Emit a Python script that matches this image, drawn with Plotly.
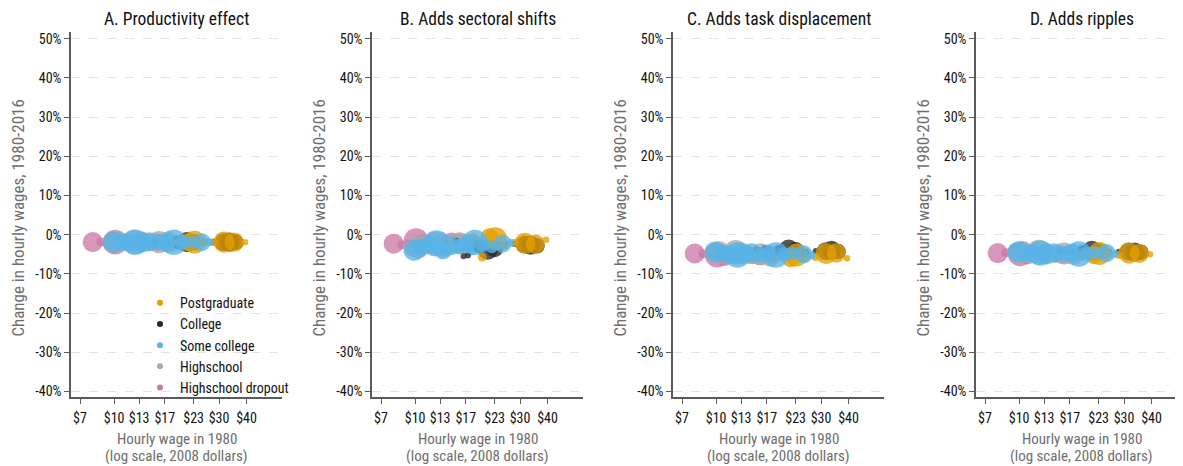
import math
import plotly.graph_objects as go

# ---------------- data ----------------
panel_titles = ["A. Productivity effect", "B. Adds sectoral shifts",
                "C. Adds task displacement", "D. Adds ripples"]

x_tick_vals = [7, 10, 13, 17, 23, 30, 40]
x_tick_text = ["$7", "$10", "$13", "$17", "$23", "$30", "$40"]
y_tick_vals = [-40, -30, -20, -10, 0, 10, 20, 30, 40, 50]
y_tick_text = ["-40%", "-30%", "-20%", "-10%", "0%", "10%", "20%", "30%", "40%", "50%"]

# Highschool dropout
dropout_wage = [8.0, 8.7, 9.3, 10.1, 10.9, 11.8, 13.2, 14.6, 15.8, 17.2]
dropout_share = [2.0, 0.4, 0.2, 3.0, 1.6, 1.0, 0.8, 1.2, 1.6, 0.5]
dropout_A = [-1.9, -1.9, -1.9, -1.9, -1.9, -1.9, -1.8, -1.9, -1.9, -1.9]
dropout_B = [-2.3, -2.6, -2.0, -1.5, -2.2, -2.8, -1.0, -1.4, -2.0, -2.4]
dropout_C = [-4.8, -4.9, -4.7, -5.2, -5.7, -5.0, -5.3, -5.4, -5.5, -5.6]
dropout_D = [-4.7, -4.6, -4.5, -4.9, -5.3, -4.8, -4.9, -5.0, -5.1, -5.0]

# Highschool
hs_wage = [9.6, 10.3, 11.2, 12.3, 13.4, 14.6, 16.0, 17.6, 19.2, 21.0]
hs_share = [1.2, 2.6, 1.6, 3.0, 2.2, 1.5, 2.4, 2.2, 1.2, 0.6]
hs_A = [-1.9, -1.9, -1.9, -1.9, -1.9, -1.9, -1.9, -1.9, -1.9, -1.9]
hs_B = [-3.4, -3.2, -2.2, -2.4, -3.2, -2.6, -2.2, -2.7, -2.3, -2.9]
hs_C = [-4.4, -4.6, -5.0, -4.5, -4.9, -5.3, -5.0, -5.4, -4.8, -5.1]
hs_D = [-4.4, -4.5, -4.8, -4.4, -4.9, -5.0, -4.8, -5.0, -4.7, -4.8]

# Some college
sc_wage = [9.9, 10.7, 11.6, 12.5, 13.4, 14.5, 15.8, 17.2, 18.7, 20.3, 22.3, 25.0, 27.2]
sc_share = [2.2, 1.4, 1.6, 3.2, 1.6, 1.8, 1.2, 1.6, 3.2, 1.0, 0.8, 1.6, 0.3]
sc_A = [-1.9, -1.9, -1.9, -1.9, -1.9, -1.8, -1.9, -1.9, -1.9, -1.9, -1.9, -1.9, -1.9]
sc_B = [-4.0, -3.2, -2.6, -2.1, -4.0, -2.8, -3.0, -2.4, -2.0, -2.6, -3.1, -2.3, -2.1]
sc_C = [-4.4, -4.8, -5.0, -5.2, -4.9, -4.6, -5.1, -4.8, -5.2, -5.0, -4.7, -5.0, -5.3]
sc_D = [-4.4, -4.6, -4.8, -4.7, -4.9, -4.6, -4.8, -4.7, -4.9, -4.8, -4.6, -4.7, -4.9]

# College
col_wage = [13.8, 15.3, 16.6, 17.4, 19.5, 21.4, 23.0, 25.5, 28.4, 31.5, 33.5, 35.8]
col_share = [0.15, 0.2, 0.15, 0.15, 0.8, 2.0, 1.4, 0.3, 0.2, 1.6, 1.8, 1.2]
col_A = [-1.9, -1.9, -1.9, -1.9, -1.9, -1.9, -1.9, -1.9, -1.9, -1.9, -1.9, -1.9]
col_B = [-2.0, -1.6, -5.5, -5.3, -3.0, -3.8, -3.6, -2.6, -2.3, -2.5, -2.7, -2.8]
col_C = [-4.6, -3.9, -3.5, -3.7, -4.1, -3.8, -4.0, -4.6, -4.2, -4.2, -4.0, -4.3]
col_D = [-4.3, -4.2, -4.5, -4.4, -4.3, -4.1, -4.3, -4.5, -4.4, -4.3, -4.4, -4.5]

# Postgraduate
pg_wage = [14.6, 16.8, 18.6, 20.2, 21.8, 23.2, 25.4, 28.4, 31.6, 35.2, 39.4]
pg_share = [0.2, 0.3, 0.3, 0.4, 1.6, 2.6, 0.4, 0.3, 2.2, 1.8, 0.2]
pg_A = [-1.9, -1.9, -1.9, -1.9, -1.9, -1.9, -1.9, -1.9, -1.9, -1.9, -1.9]
pg_B = [-1.6, -1.9, -0.6, -5.7, -0.6, -1.0, -2.6, -2.0, -2.2, -2.4, -1.3]
pg_C = [-5.6, -5.8, -6.0, -5.5, -6.0, -5.2, -5.8, -5.7, -4.8, -4.7, -6.0]
pg_D = [-5.0, -5.2, -5.3, -5.0, -5.2, -4.8, -5.0, -5.2, -4.7, -4.8, -5.0]

# ---------------- styling ----------------
FONT = "Liberation Sans Narrow, Arial Narrow, Roboto Condensed, Liberation Sans, Arial, sans-serif"
OFF = 8                      # default page margin of the html body
W, H = 1183 - OFF, 466 - OFF


def fx(p):
    """screen pixel x -> paper fraction"""
    return (p - OFF) / W


def fy(p):
    """screen pixel y -> paper fraction"""
    return 1 - (p - OFF) / H


groups = [
    # name, color, wage, share, per-panel changes  (draw order)
    ("Highschool dropout", "#CC79A7", dropout_wage, dropout_share,
     [dropout_A, dropout_B, dropout_C, dropout_D]),
    ("Highschool", "#A8A8A8", hs_wage, hs_share, [hs_A, hs_B, hs_C, hs_D]),
    ("College", "#262626", col_wage, col_share, [col_A, col_B, col_C, col_D]),
    ("Postgraduate", "#E69F00", pg_wage, pg_share, [pg_A, pg_B, pg_C, pg_D]),
    ("Some college", "#56B4E9", sc_wage, sc_share, [sc_A, sc_B, sc_C, sc_D]),
]
legend_order = ["Postgraduate", "College", "Some college", "Highschool", "Highschool dropout"]
color_of = {g[0]: g[1] for g in groups}

max_share = max(max(g[3]) for g in groups)
sizeref = max_share / (18.0 ** 2)

# screen-pixel layout of each panel (left edge of plot area, right edge)
panel_px = [(71, 282), (372, 583), (673, 884), (976, 1183)]
px_per_decade = 220.0
top_px, bot_px = 30.7, 399.0
y_range = [-41.5, 51.8]

fig = go.Figure()

for i in range(4):
    xa = "x" if i == 0 else f"x{i+1}"
    ya = "y" if i == 0 else f"y{i+1}"
    for name, color, wage, share, changes in groups:
        fig.add_trace(go.Scatter(
            x=wage, y=changes[i], mode="markers", xaxis=xa, yaxis=ya,
            showlegend=False, name=name,
            marker=dict(size=share, sizemode="area", sizeref=sizeref, sizemin=3,
                        color=color, opacity=0.78, line=dict(width=0)),
            hovertemplate=name + "<br>$%{x:.1f}: %{y:.1f}%<extra></extra>",
        ))

# legend entries (small dots, as in the reference)
for name in legend_order:
    fig.add_trace(go.Scatter(
        x=[None], y=[None], mode="markers", name=name, showlegend=True,
        marker=dict(size=6, color=color_of[name]),
    ))

layout = dict(
    width=W, height=H, margin=dict(l=0, r=0, t=0, b=0),
    paper_bgcolor="white", plot_bgcolor="white",
    font=dict(family=FONT, size=14, color="#111111"),
    showlegend=True,
    legend=dict(x=fx(140), y=fy(288), xanchor="left", yanchor="top",
                bgcolor="rgba(0,0,0,0)", font=dict(family=FONT, size=14, color="#111111"),
                itemsizing="trace", tracegroupgap=0),
)

annotations = []
for i, (l, r) in enumerate(panel_px):
    suffix = "" if i == 0 else str(i + 1)
    r_eff = min(r, OFF + W)
    left_log = math.log10(7) - 9 / px_per_decade
    right_log = left_log + (r_eff - l) / px_per_decade
    layout["xaxis" + suffix] = dict(
        domain=[fx(l), fx(r_eff)], type="log", range=[left_log, right_log],
        tickvals=x_tick_vals, ticktext=x_tick_text,
        showgrid=False, zeroline=False,
        showline=True, linecolor="#5a5a5a", linewidth=1.5,
        ticks="outside", ticklen=5, tickcolor="#5a5a5a", tickwidth=1,
        ticklabelstandoff=2,
        tickfont=dict(family=FONT, size=14, color="#111111"),
        anchor="y" + suffix, fixedrange=True,
    )
    layout["yaxis" + suffix] = dict(
        domain=[fy(bot_px), fy(top_px)], range=y_range,
        tickvals=y_tick_vals, ticktext=y_tick_text,
        showgrid=True, gridcolor="#e3e3e3", gridwidth=1, griddash="dash",
        zeroline=False,
        showline=True, linecolor="#5a5a5a", linewidth=1.5,
        ticks="outside", ticklen=5, tickcolor="#5a5a5a", tickwidth=1,
        tickfont=dict(family=FONT, size=14, color="#111111"),
        anchor="x" + suffix, fixedrange=True,
    )
    cx = (l + r) / 2
    if i == 3:
        cx = (l + 1187) / 2
    annotations.append(dict(
        text=panel_titles[i], x=fx(cx), y=fy(18), xref="paper", yref="paper",
        xanchor="center", yanchor="middle", showarrow=False,
        font=dict(family=FONT, size=17.5, color="#111111"),
    ))
    annotations.append(dict(
        text="Change in hourly wages, 1980-2016", x=fx(l - 53), y=fy(219),
        xref="paper", yref="paper", xanchor="center", yanchor="middle",
        textangle=-90, showarrow=False,
        font=dict(family=FONT, size=17, color="#6e6e6e"),
    ))
    for txt, ypx in (("Hourly wage in 1980", 441), ("(log scale, 2008 dollars)", 458)):
        annotations.append(dict(
            text=txt, x=fx(cx), y=fy(ypx),
            xref="paper", yref="paper", xanchor="center", yanchor="middle",
            showarrow=False, align="center",
            font=dict(family=FONT, size=15, color="#6e6e6e"),
        ))

layout["annotations"] = annotations
fig.update_layout(**layout)

fig.write_html("out.html")
